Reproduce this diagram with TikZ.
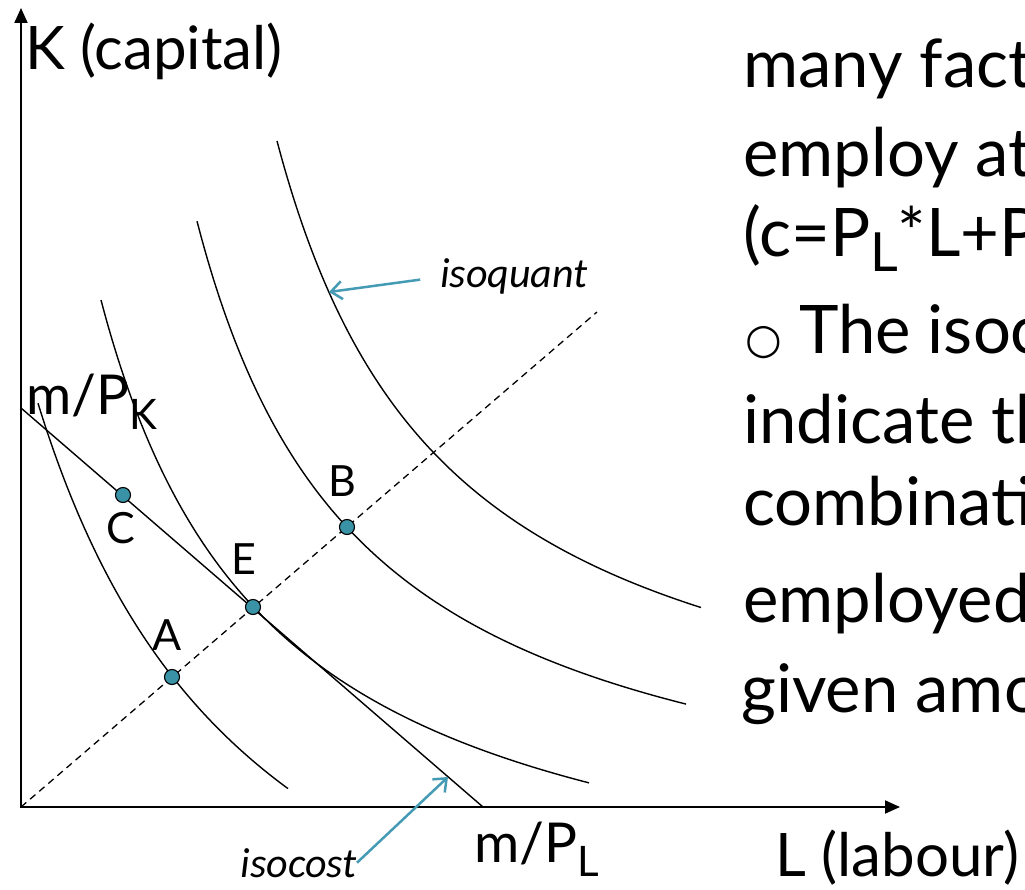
\documentclass[tikz,border=0pt]{standalone}
\usepackage{fontspec}
\setmainfont{Lato}
\newfontfamily\calfont{Carlito}
\newfontfamily\symfont{DejaVu Sans}
\usetikzlibrary{arrows.meta}
\definecolor{dotteal}{RGB}{58,146,166}
\definecolor{arrteal}{RGB}{70,155,180}
\newcommand{\fsz}[1]{\fontsize{#1}{#1}\selectfont}
\newcommand{\lowsub}[3]{\raisebox{-#1pt}{\fsz{#2}#3}}
\begin{document}
\begin{tikzpicture}[x=1pt,y=-1pt,
  axis/.style={line width=2pt, {Triangle[length=15pt,width=13pt]}-{Triangle[length=15pt,width=13pt]}},
  curve/.style={line width=1.4pt},
  ray/.style={line width=1.3pt, dash pattern=on 7pt off 5pt},
  dot/.style={circle, draw=black, fill=dotteal, line width=1.1pt, minimum size=15pt, inner sep=0pt},
  ptlabel/.style={font=\fsz{43}, inner sep=0pt},
  callout/.style={arrteal, line width=2.5pt, -{Straight Barb[length=11pt,width=18pt]}},
  calltext/.style={font=\calfont\itshape\fsz{42}, inner sep=0pt},
  axlabel/.style={font=\fsz{60}, inner sep=0pt, anchor=base west},
  mplabel/.style={font=\fsz{55}, inner sep=0pt, anchor=base west},
  bigtext/.style={font=\fsz{67}, inner sep=0pt, anchor=base west}
]
\useasboundingbox (0,0) rectangle (1025,890);
\clip (0,0) rectangle (1025,890);

% axes
\coordinate (O) at (21,807);
\coordinate (Ytop) at (21,8);
\coordinate (Xend) at (900,807);
\draw[axis] (Ytop) -- (O) -- (Xend);

% expansion path
\coordinate (D) at (597,312);
\draw[ray] (O) -- (D);

% isocost
\coordinate (IK) at (21,408);
\coordinate (IL) at (483,807);
\draw[curve] (IK) -- (IL);

% isoquants
\draw[curve] plot[domain=38:288, samples=90, smooth] (\x, {1138.5 - 166.9/(\x+189)*1000});
\draw[curve] plot[domain=101:589, samples=90, smooth] (\x, {953 - 112.3/(\x+71)*1000});
\draw[curve] plot[domain=197:686, samples=90, smooth] (\x, {870 - 109/(\x-29)*1000});
\draw[curve] plot[domain=277:701, samples=90, smooth] (\x, {799 - 114.5/(\x-103)*1000});

% points
\node[dot] (A) at (172,677) {};
\node[dot] (E) at (253,607) {};
\node[dot] (B) at (347,527) {};
\node[dot] (C) at (123,495) {};
\node[ptlabel] (Alab) at (167,635) {A};
\node[ptlabel] (Elab) at (244,559) {E};
\node[ptlabel] (Blab) at (342,481) {B};
\node[ptlabel] (Clab) at (121,528) {C};

% axis labels
\node[axlabel] (Klab) at (25,70) {K (capital)};
\node[axlabel] (Llab) at (775,876) {L (labour)};
\node[mplabel] (mPK) at (26,414) {m/P\lowsub{15}{42}{K}};
\node[mplabel] (mPL) at (474,862) {m/P\lowsub{14}{42}{L}};

% callouts
\node[calltext, anchor=base west] (isoq) at (440,288) {isoquant};
\coordinate (qtip) at (329,292);
\draw[callout, shorten <=20pt] (isoq.west) -- (qtip);
\node[calltext, anchor=base east] (isoc) at (357,877) {isocost};
\coordinate (ctip) at (448,777);
\draw[callout] (isoc.east) -- (ctip);

% right text
\node[bigtext] (t1) at (743,88) {many fact};
\node[bigtext] (t2) at (743,177) {employ at};
\node[bigtext] (t3) at (743,257) {(c=P\lowsub{15}{54}{L}*L+P};
\node[bigtext] (t4) at (745,353) {{\symfont\fsz{42}○} The isoc};
\node[bigtext] (t5) at (743,443) {indicate th};
\node[bigtext] (t6) at (743,525) {combinati};
\node[bigtext] (t7) at (743,622) {employed};
\node[bigtext] (t8) at (741,712) {given amo};
\end{tikzpicture}
\end{document}
